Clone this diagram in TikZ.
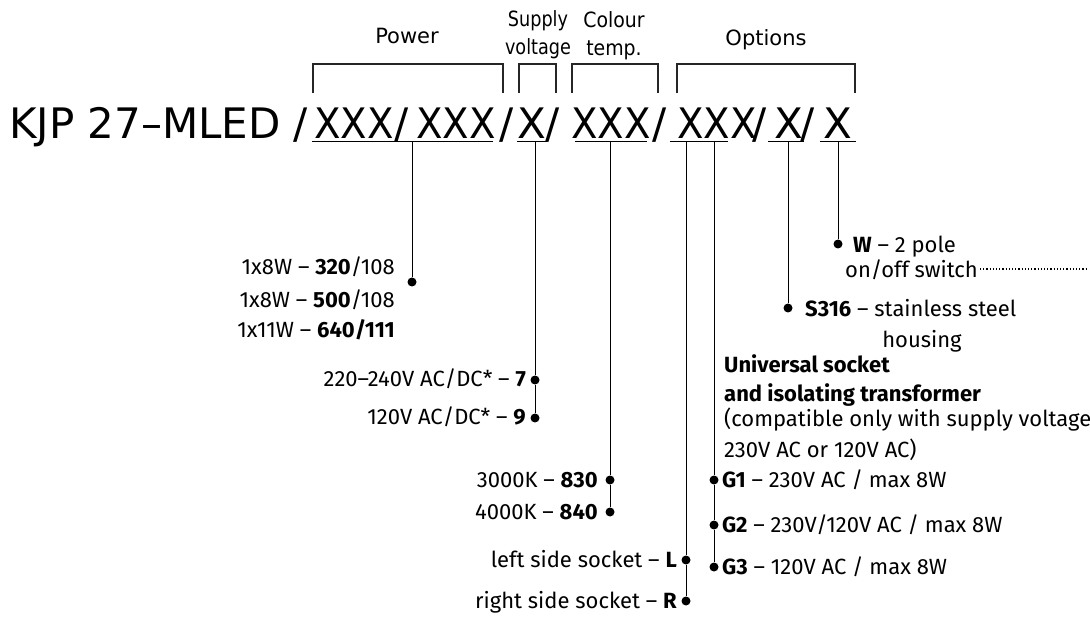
\documentclass[tikz,border=0pt]{standalone}
\usepackage{fontspec}
\setmainfont{Fira Sans}
\newfontfamily\dv{DejaVu Sans}
\usepackage{graphicx}
\usetikzlibrary{calc}
\begin{document}
\begin{tikzpicture}[x=1pt,y=-1pt,
  lbl/.style={font=\fontsize{22}{26}\selectfont, inner sep=0pt},
  lw/.style={lbl, anchor=base west},
  le/.style={lbl, anchor=base east},
  lc/.style={lbl, anchor=base},
  dotnode/.style={circle, fill=black, inner sep=0pt, minimum size=9pt},
  ttl/.style={font=\dv\fontsize{42}{46}\selectfont, inner sep=0pt, anchor=base},
  hdr/.style={font=\dv\fontsize{21}{24}\selectfont, inner sep=0pt, anchor=base},
  leader/.style={line width=1pt},
  brk/.style={line width=1.3pt, draw=black!85},
  uline/.style={line width=1pt}]
\useasboundingbox (0,0) rectangle (1090,617);

% ---- title ----
\node[ttl, anchor=base west] (t0) at (9,139) {KJP 27–MLED};
\node[ttl] (s1) at (301,139) {/};
\node[ttl] (g1) at (354,139) {\scalebox{0.92}[1]{XXX}};
\node[ttl] (s2) at (402,139) {/};
\node[ttl] (g2) at (456,139) {\scalebox{0.92}[1]{XXX}};
\node[ttl] (s3) at (507,139) {/};
\node[ttl] (g3) at (532,139) {X};
\node[ttl] (s4) at (553,139) {/};
\node[ttl] (g4) at (611,139) {\scalebox{0.92}[1]{XXX}};
\node[ttl] (s5) at (660,139) {/};
\node[ttl] (g5) at (717,139) {\scalebox{0.92}[1]{XXX}};
\node[ttl] (s6) at (760,139) {/};
\node[ttl] (g6) at (789,139) {X};
\node[ttl] (s7) at (808,139) {/};
\node[ttl] (g7) at (838,139) {X};

% underlines
\draw[uline] (312,142) -- (493,142);
\draw[uline] (517,142) -- (547,142);
\draw[uline] (575,142) -- (647,142);
\draw[uline] (670,142) -- (728,142);
\draw[uline] (768,142) -- (804,142);
\draw[uline] (820,142) -- (856,142);

% ---- headers and brackets ----
\node[hdr] (hpow) at (407,44) {Power};
\node[hdr] (hsup1) at (538,27) {\scalebox{0.84}[1]{Supply}};
\node[hdr] (hsup2) at (538,55) {\scalebox{0.84}[1]{voltage}};
\node[hdr] (hcol1) at (614,28) {\scalebox{0.9}[1]{Colour}};
\node[hdr] (hcol2) at (614,56) {\scalebox{0.9}[1]{temp.}};
\node[hdr] (hopt) at (766,46) {Options};
\draw[brk] (313,93) -- (313,64) -- (503,64) -- (503,93);
\draw[brk] (519,93) -- (519,64) -- (556,64) -- (556,93);
\draw[brk] (572,93) -- (572,64) -- (658,64) -- (658,93);
\draw[brk] (677,93) -- (677,64) -- (855,64) -- (855,93);

% ---- power ----
\coordinate (up) at (412,142);
\node[dotnode] (dp) at (412,282) {};
\draw[leader] (up) -- (dp);
\node[le] (p1) at (395,275) {1x8W – \textbf{320}/108};
\node[le] (p2) at (395,308) {1x8W – \textbf{500}/108};
\node[le] (p3) at (395,338) {1x11W – \textbf{640/111}};

% ---- supply voltage ----
\coordinate (us) at (535,142);
\node[dotnode] (d7) at (535,380) {};
\node[dotnode] (d9) at (535,418) {};
\draw[leader] (us) -- (d7) -- (d9);
\node[le] (v7) at (526,387) {220–240V AC/DC* – \textbf{7}};
\node[le] (v9) at (526,425) {120V AC/DC* – \textbf{9}};

% ---- colour temp ----
\coordinate (uc) at (610,142);
\node[dotnode] (d830) at (610,480) {};
\node[dotnode] (d840) at (610,512) {};
\draw[leader] (uc) -- (d830) -- (d840);
\node[le] (c830) at (598,487) {3000K – \textbf{830}};
\node[le] (c840) at (598,519) {4000K – \textbf{840}};

% ---- socket side ----
\coordinate (ul) at (686,142);
\node[dotnode] (dL) at (686,560) {};
\node[dotnode] (dR) at (686,601) {};
\draw[leader] (ul) -- (dL) -- (dR);
\node[le] (sL) at (677,567) {left side socket – \textbf{L}};
\node[le] (sR) at (677,608) {right side socket – \textbf{R}};

% ---- universal socket ----
\coordinate (ug) at (714,142);
\node[dotnode] (dG1) at (714,480) {};
\node[dotnode] (dG2) at (714,525) {};
\node[dotnode] (dG3) at (714,567) {};
\draw[leader] (ug) -- (dG1) -- (dG2) -- (dG3);
\node[lw] (u1) at (724,373) {\textbf{Universal socket}};
\node[lw] (u2) at (724,402) {\textbf{and isolating transformer}};
\node[lw] (u3) at (724,427) {(compatible only with supply voltage};
\node[lw] (u4) at (724,457) {230V AC or 120V AC)};
\node[lw] (G1) at (722,487) {\textbf{G1} – 230V AC / max 8W};
\node[lw] (G2) at (722,532) {\textbf{G2} – 230V/120V AC / max 8W};
\node[lw] (G3) at (722,574) {\textbf{G3} – 120V AC / max 8W};

% ---- stainless ----
\coordinate (uS) at (788,142);
\node[dotnode] (dS) at (788,308) {};
\draw[leader] (uS) -- (dS);
\node[lw] (S1) at (805,317) {\textbf{S316} – stainless steel};
\node[lc] (S2) at (922,348) {housing};

% ---- switch ----
\coordinate (uW) at (838,142);
\node[dotnode] (dW) at (838,244) {};
\draw[leader] (uW) -- (dW);
\node[lw] (W1) at (853,253) {\textbf{W} – 2 pole};
\node[lw] (W2) at (845,278) {on/off switch};
\coordinate (dotA) at ($(W2.base east)+(2,-9)$);
\coordinate (dotB) at (1088,269);
\draw[dotted, line width=1.2pt] (dotA) -- (dotB);
\end{tikzpicture}
\end{document}
